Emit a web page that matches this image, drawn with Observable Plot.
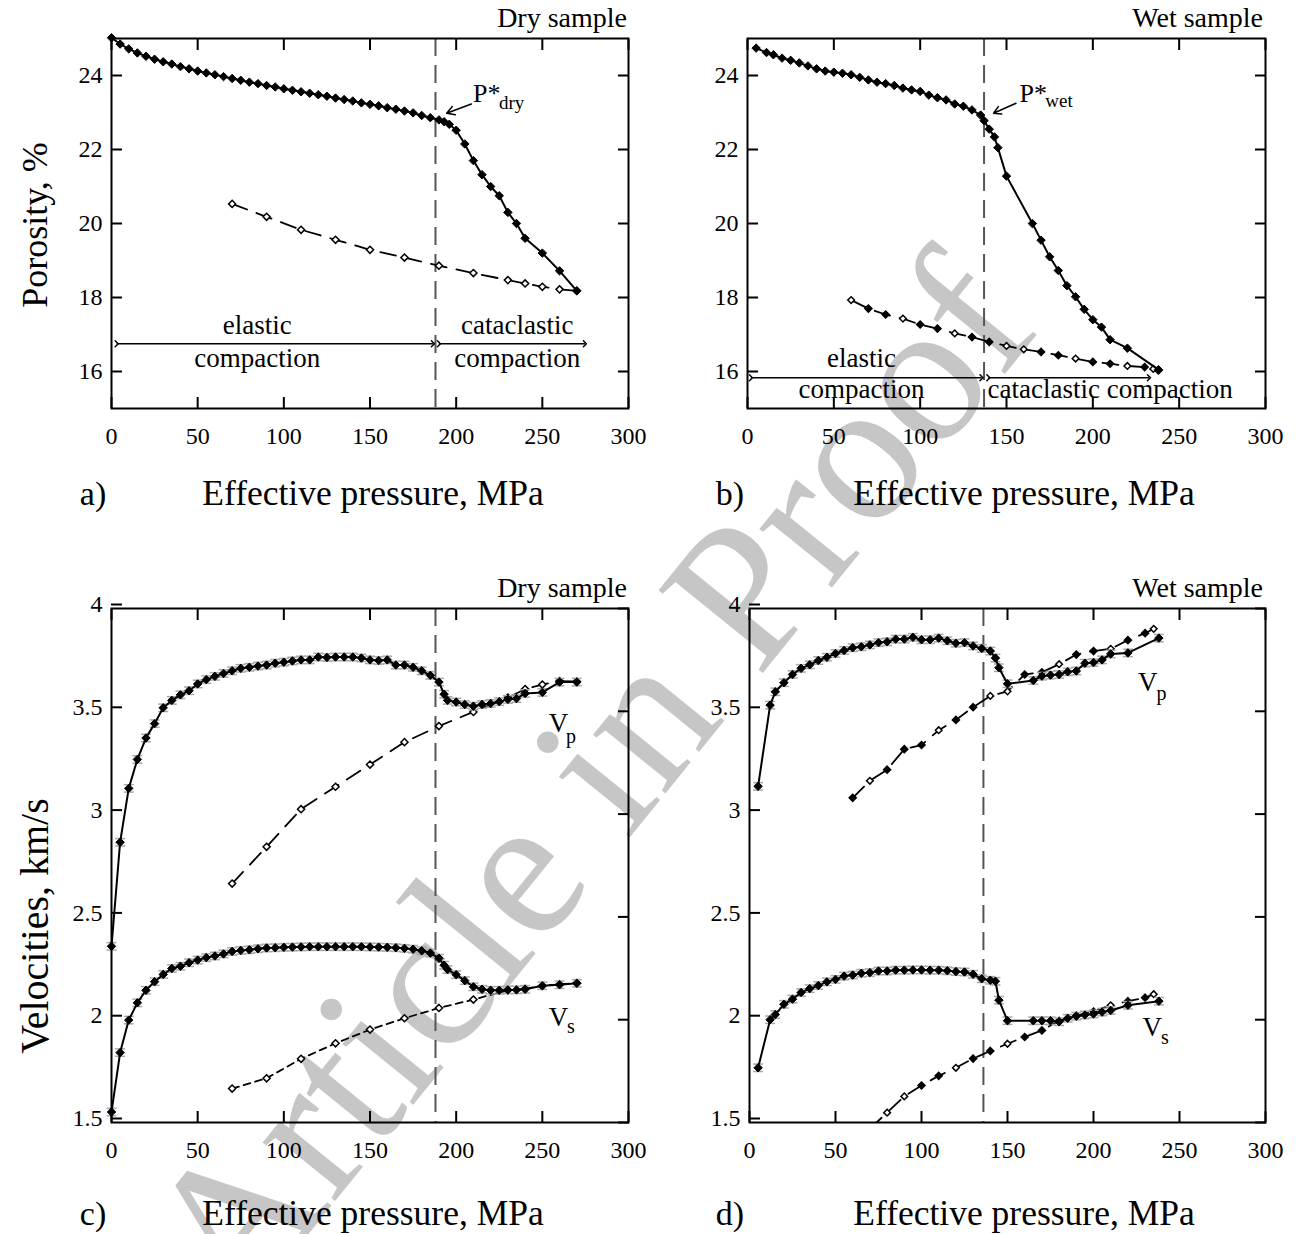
<!DOCTYPE html>
<html>
<head>
<meta charset="utf-8">
<script src="https://cdn.jsdelivr.net/npm/d3@7"></script>
<script src="https://cdn.jsdelivr.net/npm/@observablehq/plot@0.6"></script>
<style>
  html, body { margin: 0; padding: 0; background: #fff; }
  #fig { position: relative; width: 1305px; height: 1234px; overflow: hidden; font-family: "Liberation Serif", "Times New Roman", serif; color: #000; background: #fff; }
  .lbl { position: absolute; white-space: nowrap; line-height: 1; }
  .panel { position: absolute; }
  .panel svg { overflow: visible; }
</style>
</head>
<body>
<div id="fig"></div>
<script>
const FONT = '"Liberation Serif", "Times New Roman", serif';

// ---------- shared ticks ----------
const xTicks = [0, 50, 100, 150, 200, 250, 300];
const porosityTicks = [16, 18, 20, 22, 24];
const velocityTicks = [1.5, 2, 2.5, 3, 3.5, 4];

// ---------- (a) dry porosity ----------
const dryPorP = [0,5,10,15,20,25,30,35,40,45,50,55,60,65,70,75,80,85,90,95,100,105,110,115,120,125,130,135,140,145,150,155,160,165,170,175,180,185,190,193,196,200,205,210,215,220,225,230,235,240,250,260,270];
const dryPorPhi = [25.02,24.85,24.72,24.61,24.52,24.44,24.37,24.31,24.24,24.18,24.12,24.07,24.02,23.97,23.92,23.87,23.82,23.78,23.73,23.69,23.64,23.60,23.56,23.52,23.48,23.44,23.39,23.35,23.31,23.26,23.22,23.18,23.13,23.09,23.04,22.99,22.92,22.86,22.80,22.75,22.68,22.52,22.15,21.70,21.32,21.00,20.75,20.30,20.00,19.60,19.20,18.72,18.18];
const dryPorUnP = [70,90,110,130,150,170,190,210,230,240,250,260,270];
const dryPorUnPhi = [20.53,20.18,19.83,19.56,19.29,19.08,18.86,18.66,18.47,18.38,18.29,18.22,18.18];
const pStarDry = 188;

// ---------- (b) wet porosity ----------
const wetPorP = [5,11,15,20,25,30,35,40,45,50,55,60,65,70,75,80,85,90,95,100,105,110,115,120,125,130,135,137,140,143,145,150,165,170,175,180,185,190,195,200,205,210,220,238];
const wetPorPhi = [24.74,24.62,24.56,24.47,24.41,24.34,24.26,24.18,24.12,24.09,24.06,24.02,23.95,23.88,23.82,23.78,23.73,23.66,23.61,23.57,23.47,23.40,23.34,23.23,23.17,23.07,22.93,22.78,22.55,22.34,22.05,21.28,20.00,19.55,19.10,18.73,18.32,18.02,17.68,17.40,17.20,16.86,16.63,16.05];
const wetPorUnP = [60,70,80,90,100,110,120,130,140,150,160,170,180,190,200,210,220,230,235,238];
const wetPorUnPhi = [17.93,17.70,17.54,17.43,17.27,17.16,17.03,16.93,16.80,16.69,16.60,16.53,16.44,16.35,16.26,16.21,16.15,16.12,16.07,16.03];
const wetPorUnOpen = [60,90,120,150,160,190,220,235];
const pStarWet = 137;

// ---------- (c) dry velocities ----------
const dryVelP = [0,5,10,15,20,25,30,35,40,45,50,55,60,65,70,75,80,85,90,95,100,105,110,115,120,125,130,135,140,145,150,155,160,165,170,175,180,185,190,193,195,200,205,210,215,220,225,230,235,240,250,260,270];
const dryVp = [2.357,2.863,3.125,3.266,3.37,3.44,3.517,3.553,3.58,3.60,3.633,3.654,3.67,3.684,3.697,3.709,3.714,3.72,3.725,3.734,3.739,3.745,3.75,3.75,3.764,3.762,3.764,3.764,3.764,3.759,3.75,3.747,3.75,3.725,3.725,3.714,3.697,3.675,3.642,3.583,3.553,3.545,3.533,3.525,3.533,3.538,3.547,3.558,3.562,3.587,3.592,3.642,3.642];
const dryVs = [1.551,1.84,1.998,2.082,2.143,2.185,2.22,2.249,2.26,2.277,2.29,2.302,2.31,2.32,2.332,2.337,2.34,2.345,2.349,2.35,2.352,2.353,2.354,2.355,2.355,2.355,2.355,2.355,2.355,2.355,2.354,2.353,2.352,2.35,2.347,2.343,2.335,2.324,2.299,2.265,2.244,2.219,2.19,2.16,2.148,2.143,2.143,2.145,2.145,2.148,2.165,2.17,2.177];
const dryVpUnP = [70,90,110,130,150,170,190,210,230,240,250,260,270];
const dryVpUn = [2.662,2.841,3.024,3.133,3.241,3.35,3.428,3.497,3.567,3.608,3.63,3.647,3.645];
const dryVsUnP = [70,90,110,130,150,170,190,210,230,240,250,260,270];
const dryVsUn = [1.665,1.715,1.81,1.885,1.952,2.007,2.057,2.098,2.143,2.15,2.165,2.172,2.178];
const pStarDryVel = 188;

// ---------- (d) wet velocities ----------
const wetVelP = [5,12,15,20,25,30,35,40,45,50,55,60,65,70,75,80,85,90,95,100,105,110,115,120,125,130,135,140,143,145,150,165,170,175,180,185,190,195,200,205,210,220,238];
const wetVp = [3.135,3.53,3.595,3.639,3.679,3.709,3.726,3.747,3.763,3.781,3.796,3.809,3.814,3.823,3.834,3.838,3.851,3.851,3.86,3.848,3.848,3.856,3.843,3.831,3.834,3.818,3.806,3.793,3.759,3.712,3.634,3.65,3.671,3.676,3.679,3.692,3.696,3.734,3.737,3.75,3.779,3.784,3.856];
const wetVs = [1.766,2.0,2.025,2.075,2.1,2.132,2.151,2.166,2.184,2.196,2.212,2.217,2.226,2.229,2.237,2.237,2.241,2.241,2.242,2.242,2.241,2.241,2.238,2.234,2.232,2.221,2.199,2.192,2.187,2.095,1.995,1.995,1.995,1.995,1.99,2.007,2.017,2.023,2.028,2.037,2.045,2.07,2.09];
const wetVpUnP = [60,70,80,90,100,110,120,130,140,150,160,170,180,190,200,210,220,230,235];
const wetVpUn = [3.079,3.162,3.216,3.316,3.336,3.408,3.458,3.52,3.575,3.597,3.679,3.69,3.729,3.776,3.793,3.804,3.846,3.88,3.901];
const wetVpUnOpen = [70,110,140,150,180,210,235];
const wetVsUnP = [70,80,90,100,110,120,130,140,150,160,170,180,190,200,210,220,230,235];
const wetVsUn = [1.47,1.548,1.627,1.68,1.727,1.766,1.811,1.848,1.883,1.916,1.948,1.995,2.02,2.04,2.07,2.09,2.107,2.124];
const wetVsUnOpen = [80,90,120,150,210,235];
const pStarWetVel = 136;
const velErr = 0.018;

// ---------- helpers ----------
const pts = (xs, ys) => xs.map((x, i) => ({x, y: ys[i]}));
const capSymbol = {draw(ctx, size) { const w = Math.sqrt(size) / 2; ctx.moveTo(-w, 0); ctx.lineTo(w, 0); }};

function loadingSeries(data, withErr) {
  const m = [];
  if (withErr) {
    m.push(Plot.dot(data, {x: "x", y: d => d.y + velErr, symbol: capSymbol, r: 5.6, stroke: "#a8a8a8", strokeWidth: 1.5, fill: "none"}));
    m.push(Plot.dot(data, {x: "x", y: d => d.y - velErr, symbol: capSymbol, r: 5.6, stroke: "#a8a8a8", strokeWidth: 1.5, fill: "none"}));
  }
  m.push(Plot.line(data, {x: "x", y: "y", stroke: "black", strokeWidth: 2}));
  m.push(Plot.dot(data, {x: "x", y: "y", symbol: "diamond2", r: 3.8, fill: "black", stroke: "black", strokeWidth: 1}));
  return m;
}
function unloadingSeries(data, dash, openList) {
  const open = openList ? new Set(openList) : null;
  return [
    Plot.line(data, {x: "x", y: "y", stroke: "black", strokeWidth: 1.8, strokeDasharray: dash, clip: true}),
    Plot.dot(data, {x: "x", y: "y", symbol: "diamond2", r: open ? (d => open.has(d.x) ? 3.2 : 3.6) : 3.2,
      fill: d => (!open || open.has(d.x)) ? "white" : "black", stroke: "black", strokeWidth: 1.5, clip: true})
  ];
}
function pStarLine(p) {
  return Plot.ruleX([p], {stroke: "#555", strokeWidth: 2, strokeDasharray: "18,9"});
}

function panel({left, top, width, height, mL, mR, mT, mB, yDomain, yTicks, yLabelDy, marks}) {
  const svg = Plot.plot({
    width, height,
    marginLeft: mL, marginRight: mR, marginTop: mT, marginBottom: mB,
    x: {domain: [0, 300], label: null},
    y: {domain: yDomain, label: null},
    style: {background: "transparent", fontFamily: FONT, fontSize: "24px", color: "black", overflow: "visible"},
    marks: [
      ...marks,
      Plot.frame({stroke: "black", strokeWidth: 2}),
      Plot.axisX({ticks: xTicks, anchor: "bottom", tickSize: -11, tickPadding: 29, strokeWidth: 2, fontSize: 24, tickFormat: d => String(d), label: null}),
      Plot.axisX({ticks: xTicks, anchor: "top", tickSize: -11, strokeWidth: 2, tickFormat: () => "", label: null}),
      Plot.axisY({ticks: yTicks, anchor: "left", tickSize: -11, tickPadding: 20, dy: yLabelDy, strokeWidth: 2, fontSize: 24, tickFormat: d => String(d), label: null}),
      Plot.axisY({ticks: yTicks, anchor: "right", tickSize: -11, strokeWidth: 2, tickFormat: () => "", label: null})
    ]
  });
  const div = document.createElement("div");
  div.className = "panel";
  div.style.left = left + "px";
  div.style.top = top + "px";
  div.appendChild(svg);
  fig.appendChild(div);
}

const fig = document.getElementById("fig");

function label(text, x, y, size, anchor = "middle", rotate = 0, color = "#000") {
  const el = document.createElement("div");
  el.className = "lbl";
  el.textContent = text;
  el.style.fontSize = size + "px";
  el.style.left = x + "px";
  el.style.top = y + "px";
  el.style.color = color;
  const tx = anchor === "middle" ? "-50%" : anchor === "end" ? "-100%" : "0";
  el.style.transform = `translate(${tx}, -50%) rotate(${rotate}deg)`;
  fig.appendChild(el);
  return el;
}

// watermark (behind the plots)
label("Article in Proof", 588, 780, 203, "middle", -51, "#c6c6c6");

// ---------- panel a ----------
panel({
  left: 0, top: 0, width: 660, height: 470, mL: 111, mR: 32, mT: 38, mB: 62,
  yDomain: [15, 25], yTicks: porosityTicks, yLabelDy: 0,
  marks: [
    pStarLine(pStarDry),
    ...unloadingSeries(pts(dryPorUnP, dryPorUnPhi), "16,10"),
    ...loadingSeries(pts(dryPorP, dryPorPhi), false),
    Plot.link([{x1: 3, x2: 186.5, y: 16.75}, {x1: 190, x2: 274.7, y: 16.75}], {x1: "x1", x2: "x2", y1: "y", y2: "y", stroke: "black", strokeWidth: 1.5, markerStart: "arrow", markerEnd: "arrow"}),
    Plot.text([{x: 84.6, y: 17.25, t: "elastic"}, {x: 84.6, y: 16.35, t: "compaction"}, {x: 235.4, y: 17.25, t: "cataclastic"}, {x: 235.4, y: 16.35, t: "compaction"}], {x: "x", y: "y", text: "t", fontSize: 27}),
    Plot.arrow([{x1: 208.8, y1: 23.23, x2: 194.5, y2: 22.98}], {x1: "x1", y1: "y1", x2: "x2", y2: "y2", stroke: "black", strokeWidth: 1.5, headLength: 10}),
    Plot.text([{x: 209.8, y: 23.5, t: "P*"}], {x: "x", y: "y", text: "t", textAnchor: "start", fontSize: 26}),
    Plot.text([{x: 224.8, y: 23.25, t: "dry"}], {x: "x", y: "y", text: "t", textAnchor: "start", fontSize: 19})
  ]
});

// ---------- panel b ----------
panel({
  left: 650, top: 0, width: 650, height: 470, mL: 97, mR: 35, mT: 38, mB: 62,
  yDomain: [15, 25], yTicks: porosityTicks, yLabelDy: 0,
  marks: [
    pStarLine(pStarWet),
    ...unloadingSeries(pts(wetPorUnP, wetPorUnPhi), "16,10", wetPorUnOpen),
    ...loadingSeries(pts(wetPorP, wetPorPhi), false),
    Plot.link([{x1: 2, x2: 135.5, y: 15.83}, {x1: 139.5, x2: 232.5, y: 15.83}], {x1: "x1", x2: "x2", y1: "y", y2: "y", stroke: "black", strokeWidth: 1.5, markerStart: "arrow", markerEnd: "arrow"}),
    Plot.text([{x: 66, y: 16.36, t: "elastic"}, {x: 66, y: 15.51, t: "compaction"}, {x: 210, y: 15.51, t: "cataclastic compaction"}], {x: "x", y: "y", text: "t", fontSize: 27}),
    Plot.arrow([{x1: 155.5, y1: 23.25, x2: 142.5, y2: 22.98}], {x1: "x1", y1: "y1", x2: "x2", y2: "y2", stroke: "black", strokeWidth: 1.5, headLength: 10}),
    Plot.text([{x: 157.5, y: 23.52, t: "P*"}], {x: "x", y: "y", text: "t", textAnchor: "start", fontSize: 26}),
    Plot.text([{x: 172.5, y: 23.3, t: "wet"}], {x: "x", y: "y", text: "t", textAnchor: "start", fontSize: 19})
  ]
});

// ---------- panel c ----------
panel({
  left: 0, top: 570, width: 660, height: 620, mL: 111, mR: 32, mT: 38, mB: 68,
  yDomain: [1.5, 4], yTicks: velocityTicks, yLabelDy: -4,
  marks: [
    pStarLine(pStarDryVel),
    ...unloadingSeries(pts(dryVpUnP, dryVpUn), "16,10"),
    ...unloadingSeries(pts(dryVsUnP, dryVsUn), "7,5"),
    ...loadingSeries(pts(dryVelP, dryVp), true),
    ...loadingSeries(pts(dryVelP, dryVs), true),
    Plot.text([{x: 259.4, y: 3.44, t: "V"}, {x: 259.4, y: 2.01, t: "V"}], {x: "x", y: "y", text: "t", fontSize: 27}),
    Plot.text([{x: 266.6, y: 3.375, t: "p"}, {x: 266.6, y: 1.968, t: "s"}], {x: "x", y: "y", text: "t", fontSize: 20})
  ]
});

// ---------- panel d ----------
panel({
  left: 650, top: 570, width: 650, height: 620, mL: 99, mR: 35, mT: 38, mB: 68,
  yDomain: [1.5, 4], yTicks: velocityTicks, yLabelDy: -4,
  marks: [
    pStarLine(pStarWetVel),
    ...unloadingSeries(pts(wetVpUnP, wetVpUn), "16,10", wetVpUnOpen),
    ...unloadingSeries(pts(wetVsUnP, wetVsUn), "16,10", wetVsUnOpen),
    ...loadingSeries(pts(wetVelP, wetVp), true),
    ...loadingSeries(pts(wetVelP, wetVs), true),
    Plot.text([{x: 231.5, y: 3.642, t: "V"}, {x: 234.1, y: 1.962, t: "V"}], {x: "x", y: "y", text: "t", fontSize: 27}),
    Plot.text([{x: 239.5, y: 3.584, t: "p"}, {x: 241.5, y: 1.912, t: "s"}], {x: "x", y: "y", text: "t", fontSize: 20})
  ]
});

// ---------- titles and axis labels ----------
label("Dry sample", 627, 18, 28, "end");
label("Wet sample", 1263, 18, 28, "end");
label("Dry sample", 627, 588, 28, "end");
label("Wet sample", 1263, 588, 28, "end");

label("a)", 93, 494, 34);
label("b)", 730, 494, 34);
label("c)", 93, 1214, 34);
label("d)", 730, 1214, 34);
label("Effective pressure, MPa", 373, 494, 35.5);
label("Effective pressure, MPa", 1024, 494, 35.5);
label("Effective pressure, MPa", 373, 1214, 35.5);
label("Effective pressure, MPa", 1024, 1214, 35.5);

label("Porosity, %", 35, 225, 36, "middle", -90);
label("Velocities, km/s", 35, 926, 40, "middle", -90);
</script>
</body>
</html>
